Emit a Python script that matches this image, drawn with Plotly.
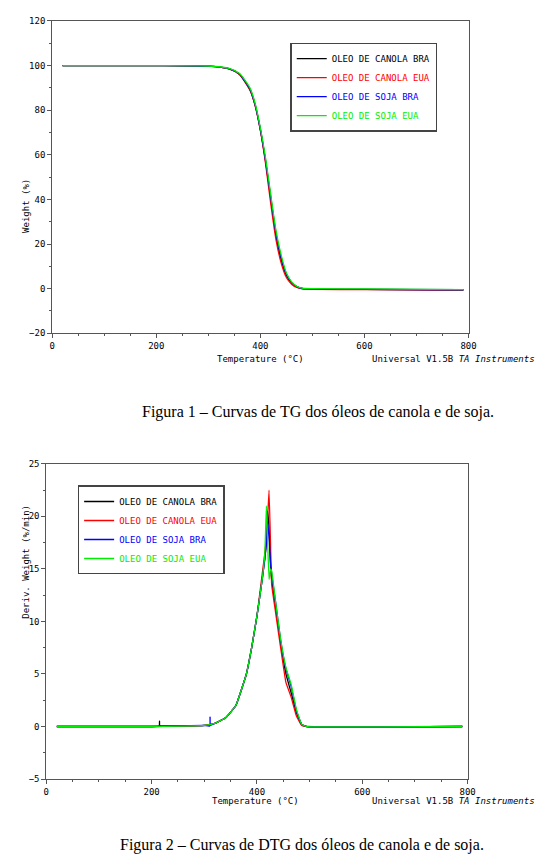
import plotly.graph_objects as go

names = ["OLEO DE CANOLA BRA", "OLEO DE CANOLA EUA", "OLEO DE SOJA BRA", "OLEO DE SOJA EUA"]
colors = ["#000000", "#ff0000", "#0000ff", "#00ee00"]

tg_T = [20, 200, 300, 340, 360, 380, 390, 400, 410, 420, 430, 440, 450, 460, 470, 480, 500, 600, 790]
tg_W = {
    "OLEO DE CANOLA BRA": [100, 100, 99.7, 98.5, 96, 89, 82, 71, 57, 40, 24, 13, 6, 2.5, 0.8, 0.1, -0.2, -0.3, -0.6],
    "OLEO DE CANOLA EUA": [100, 100, 99.7, 98.5, 96, 89, 82, 71, 56, 38, 22, 11.5, 5, 2, 0.5, -0.1, -0.3, -0.4, -0.6],
    "OLEO DE SOJA BRA":   [100, 100, 99.7, 98.6, 96.2, 89.5, 82.5, 71.5, 57.5, 41, 25, 14, 6.5, 2.8, 0.9, 0.1, -0.2, -0.3, -0.5],
    "OLEO DE SOJA EUA":   [100, 100, 99.8, 98.7, 96.4, 90, 83, 72, 58.5, 42, 26, 15, 7, 3, 1, 0.2, 0, -0.1, -0.4],
}

dtg_T = [20, 200, 300, 320, 340, 360, 380, 390, 400, 410, 415, 418, 420, 423, 426, 428, 435, 445, 455, 465, 475, 485, 495, 790]
dtg_D = {
    "OLEO DE CANOLA BRA": [0, 0, 0.1, 0.3, 0.8, 2, 5, 7.5, 10.5, 14, 16, 17.5, 20.5, 19, 15, 14, 11.5, 8, 5, 3.2, 1.3, 0.2, 0, 0],
    "OLEO DE CANOLA EUA": [0, 0, 0.1, 0.3, 0.8, 2, 5, 7.5, 10.5, 14.5, 16.5, 18, 19.5, 22.5, 17, 13.5, 11, 7.5, 4.2, 2.8, 1, 0.1, 0, 0],
    "OLEO DE SOJA BRA":   [0, 0, 0.1, 0.3, 0.8, 2, 5, 7.5, 10.5, 14, 16, 17.5, 19.5, 18, 15.5, 14.5, 12, 8.2, 5.5, 3.8, 1.5, 0.2, 0, 0],
    "OLEO DE SOJA EUA":   [0, 0, 0.1, 0.3, 0.8, 2, 5, 7.5, 10.5, 14, 16.5, 21, 18, 14, 15, 14.8, 12, 8.3, 5.6, 4, 1.6, 0.2, 0, 0],
}
spike_T = {"OLEO DE CANOLA BRA": 215, "OLEO DE SOJA BRA": 311}
spike_H = {"OLEO DE CANOLA BRA": 0.5, "OLEO DE SOJA BRA": 0.9}

fig = go.Figure()
for n, c in zip(names, colors):
    fig.add_trace(go.Scatter(x=tg_T, y=tg_W[n], mode="lines", name=f"<span style='color:{c}'>{n}</span>",
                             line=dict(color=c, width=1.3, shape="spline", smoothing=0.6),
                             xaxis="x", yaxis="y", legend="legend"))
for n, c in zip(names, colors):
    xs, ys = list(dtg_T), list(dtg_D[n])
    if n in spike_T:
        t = spike_T[n]
        i = next(k for k, v in enumerate(xs) if v > t)
        xs[i:i] = [t - 0.5, t, t + 0.5]
        ys[i:i] = [0.05, spike_H[n], 0.1]
    fig.add_trace(go.Scatter(x=xs, y=ys, mode="lines", name=f"<span style='color:{c}'>{n}</span>",
                             line=dict(color=c, width=1.3, shape="spline", smoothing=0.3),
                             xaxis="x2", yaxis="y2", legend="legend2"))

mono = dict(family="DejaVu Sans Mono", size=9, color="black")
ax = dict(showline=True, linecolor="#555", mirror=True, ticks="outside", ticklen=4, tickcolor="#555",
          showgrid=False, zeroline=False, tickfont=mono, minor=dict(ticks="outside", ticklen=2, tickcolor="#555"))
fig.update_layout(
    width=545, height=868, margin=dict(l=0, r=0, t=0, b=0), paper_bgcolor="white", plot_bgcolor="white",
    xaxis=dict(ax, domain=[42/545, 467/545], range=[0, 800], dtick=200, minor=dict(ax["minor"], dtick=50), anchor="y"),
    yaxis=dict(ax, domain=[1-324/868, 1-8/868], range=[-20, 120], dtick=20, minor=dict(ax["minor"], dtick=10), anchor="x"),
    xaxis2=dict(ax, domain=[36/545, 466/545], range=[0, 800], dtick=200, minor=dict(ax["minor"], dtick=50), anchor="y2"),
    yaxis2=dict(ax, domain=[1-775/868, 1-456/868], range=[-5, 25], dtick=5, minor=dict(ax["minor"], dtick=2.5), anchor="x2"),
    legend=dict(x=285/545, y=1-30/868, xanchor="left", yanchor="top", bordercolor="#444", borderwidth=1.5,
                font=mono, tracegroupgap=0, itemwidth=30, bgcolor="white"),
    legend2=dict(x=68/545, y=1-478/868, xanchor="left", yanchor="top", bordercolor="#444", borderwidth=1.5,
                 font=mono, tracegroupgap=0, itemwidth=30, bgcolor="white"),
    showlegend=True,
)

def ann(text, x, y, **kw):
    fig.add_annotation(text=text, x=x/545, y=1-y/868, xref="paper", yref="paper", showarrow=False, font=kw.pop("font", mono), **kw)

ann("Temperature (°C)", 255, 350)
ann("Universal V1.5B <i>TA Instruments</i>", 537, 350, xanchor="right")
ann("Weight (%)", 8, 166, textangle=-90)
ann("Temperature (°C)", 250, 804)
ann("Universal V1.5B <i>TA Instruments</i>", 537, 804, xanchor="right")
ann("Deriv. Weight (%/min)", 8, 615, textangle=-90)
serif = dict(family="Liberation Serif", size=16, color="black")
ann("Figura 1 – Curvas de TG dos óleos de canola e de soja.", 313, 404, font=serif)
ann("Figura 2 – Curvas de DTG dos óleos de canola e de soja.", 297, 853, font=serif)

fig.write_html("out.html")
